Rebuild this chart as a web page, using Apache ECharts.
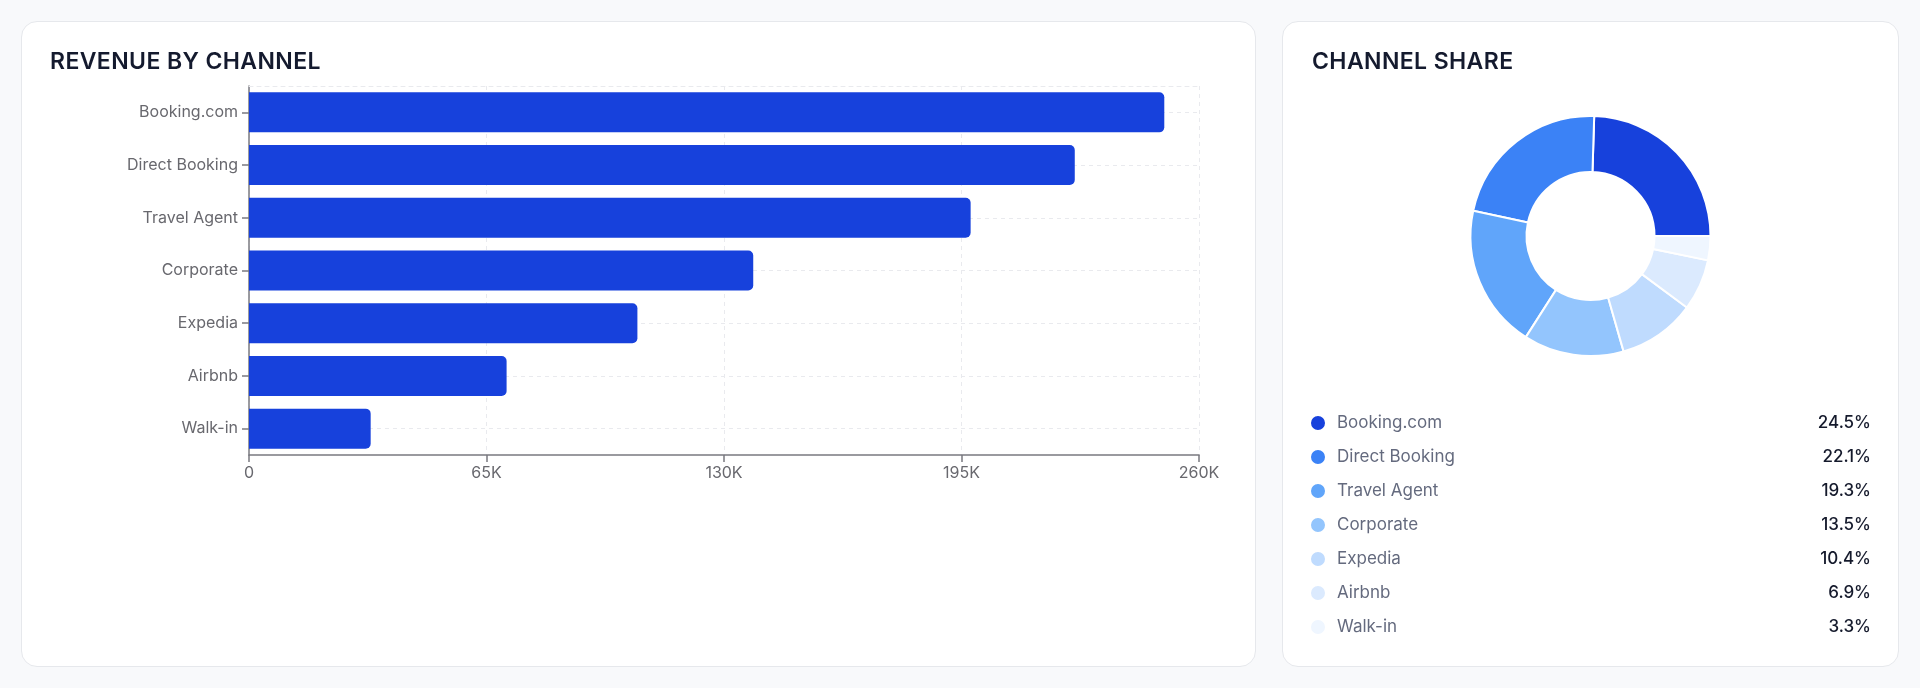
<!DOCTYPE html>
<html>
<head>
<meta charset="utf-8">
<script src="https://cdn.jsdelivr.net/npm/echarts@6/dist/echarts.min.js"></script>
<style>
	html, body { margin: 0; padding: 0; }
	body { width: 1920px; height: 688px; background: #f8f9fb; position: relative; overflow: hidden; font-family: Inter, "Noto Sans", sans-serif; }
	.card { position: absolute; top: 21px; height: 646px; background: #fff; border: 1px solid #e6e8ec; border-radius: 16px; box-sizing: border-box; }
	#revCard { left: 21px; width: 1235px; }
	#shareCard { left: 1282px; width: 617px; }
	.chart { position: absolute; top: 21px; height: 646px; }
	#revChart { left: 21px; width: 1235px; }
	#shareChart { left: 1282px; width: 617px; }
	.title { position: absolute; top: 49px; font-size: 23px; line-height: 24px; font-weight: 600; letter-spacing: 0.4px; color: #141a2e; white-space: nowrap; }
</style>
</head>
<body>
	<div id="revCard" class="card"></div>
	<div id="shareCard" class="card"></div>
	<div id="revChart" class="chart"></div>
	<div id="shareChart" class="chart"></div>
	<div class="title" style="left:50px;">REVENUE BY CHANNEL</div>
	<div class="title" style="left:1312px;">CHANNEL SHARE</div>

<script>
	// revenue per channel
	var channels = ['Booking.com', 'Direct Booking', 'Travel Agent', 'Corporate', 'Expedia', 'Airbnb', 'Walk-in'];
	var revenue = [250500, 226000, 197500, 138000, 106300, 70500, 33300];
	var shareColors = ['#1741dc', '#3b82f6', '#60a5fa', '#93c5fd', '#bfdbfe', '#dbeafe', '#eff6ff'];
	var xTicks = [0, 65000, 130000, 195000, 260000];

	var labelColor = '#68686e';
	var axisColor = '#7a7a80';
	var gridColor = '#e9eaee';

	var total = 0;
	for (var i = 0; i < revenue.length; i++) {
		total += revenue[i];
	}
	var shareMap = {};
	for (var i = 0; i < channels.length; i++) {
		shareMap[channels[i]] = (revenue[i] / total * 100).toFixed(1) + '%';
	}

	var revChart = echarts.init(document.getElementById('revChart'));
	revChart.setOption({
		animation: false,
		textStyle: { fontFamily: 'Inter' },
		grid: { left: 228, top: 65, width: 950, height: 369 },
		xAxis: [{
			type: 'value',
			min: xTicks[0],
			max: xTicks[xTicks.length - 1],
			interval: xTicks[1] - xTicks[0],
			axisLine: { show: true, lineStyle: { color: axisColor, width: 1.5 } },
			axisTick: { show: true, length: 7, lineStyle: { color: axisColor, width: 1.5 } },
			axisLabel: {
				color: labelColor,
				fontSize: 16,
				margin: 10,
				formatter: function(v) {
					return v === 0 ? '0' : (v / 1000) + 'K';
				}
			},
			splitLine: { show: true, lineStyle: { color: gridColor, type: [4, 4] } }
		}, {
			type: 'value',
			position: 'top',
			min: xTicks[0],
			max: xTicks[xTicks.length - 1],
			axisLine: { show: true, lineStyle: { color: gridColor, type: [4, 4] } },
			axisTick: { show: false },
			axisLabel: { show: false },
			splitLine: { show: false }
		}],
		yAxis: {
			type: 'category',
			inverse: true,
			data: channels,
			axisLine: { show: true, lineStyle: { color: axisColor, width: 1.5 } },
			axisTick: { show: true, alignWithLabel: true, length: 7, lineStyle: { color: axisColor, width: 1.5 } },
			axisLabel: { color: labelColor, fontSize: 16, margin: 11 },
			splitLine: { show: true, alignWithLabel: true, lineStyle: { color: gridColor, type: [4, 4] } }
		},
		series: [{
			type: 'bar',
			xAxisIndex: 0,
			data: revenue,
			barWidth: 40,
			itemStyle: { color: shareColors[0], borderRadius: [0, 5, 5, 0] }
		}]
	});

	var pieData = [];
	for (var i = 0; i < channels.length; i++) {
		pieData.push({ name: channels[i], value: revenue[i], itemStyle: { color: shareColors[i] } });
	}

	var shareChart = echarts.init(document.getElementById('shareChart'));
	shareChart.setOption({
		animation: false,
		textStyle: { fontFamily: 'Inter' },
		legend: {
			orient: 'vertical',
			left: 22,
			top: 388,
			icon: 'circle',
			itemWidth: 16,
			itemHeight: 16,
			itemGap: 16,
			selectedMode: false,
			data: channels,
			formatter: function(name) {
				return '{n|' + name + '}{p|' + shareMap[name] + '}';
			},
			textStyle: {
				rich: {
					n: { width: 474, padding: [0, 0, 0, 6], fontSize: 17, lineHeight: 20, color: '#646a7e', fontFamily: 'Inter' },
					p: { width: 60, align: 'right', fontSize: 17, lineHeight: 20, color: '#151a2c', fontWeight: 500, fontFamily: 'Inter' }
				}
			}
		},
		series: [{
			type: 'pie',
			center: ['50%', 215],
			radius: [64, 120],
			startAngle: 0,
			clockwise: false,
			label: { show: false },
			labelLine: { show: false },
			itemStyle: { borderColor: '#fff', borderWidth: 2 },
			emphasis: { disabled: true },
			data: pieData
		}]
	});
</script>
</body>
</html>
